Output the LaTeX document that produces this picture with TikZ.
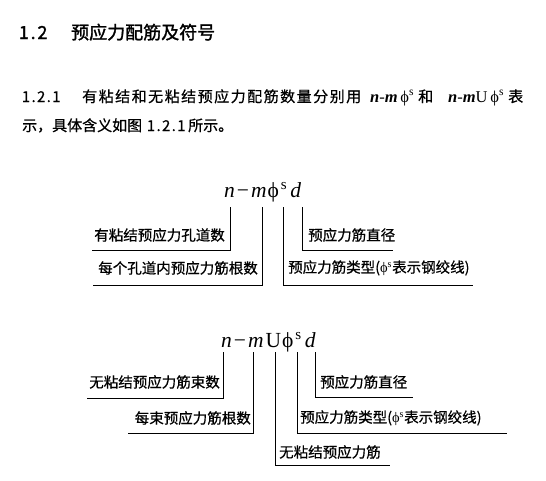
\documentclass[tikz,border=0pt]{standalone}
\usepackage{fontspec}
\setmainfont{Liberation Serif}
\newfontfamily\cjk{Noto Sans CJK SC}[FakeBold=0.6]
\newfontfamily\cjkhead{Noto Sans CJK SC}[FakeBold=1.6]
\newfontfamily\tms{Liberation Serif}
\newcommand\phisup{{\tms ϕ\textsuperscript{s}}}
\newcommand\hw[1]{\makebox[7.6pt]{#1}}
\newcommand\hwh[1]{\makebox[9.3pt]{#1}}
\newcommand\ks{\kern1.5pt}
\tikzset{
  lab/.style={font=\cjk\fontsize{14.5}{14.5}\selectfont, inner sep=0pt},
  body/.style={font=\cjk\fontsize{15}{15}\selectfont, inner sep=0pt, anchor=base west},
  bodyf/.style={font=\tms\fontsize{16.5}{16.5}\selectfont, inner sep=0pt, anchor=base west},
  head/.style={font=\cjkhead\fontsize{18}{18}\selectfont, inner sep=0pt, anchor=base west},
  formula/.style={font=\tms\fontsize{21.5}{21.5}\selectfont, inner sep=0pt, anchor=base west},
  ln/.style={line width=0.9pt},
}
\begin{document}
\begin{tikzpicture}[x=1pt,y=-1pt]
\useasboundingbox (0,0) rectangle (546,480);
\fill[white] (0,0) rectangle (546,480);
% heading
\node[head] (h1) at (19,39) {\hwh{1}\hwh{.}\hwh{2}};
\node[head] (h2) at (71,39) {预应力配筋及符号};
% paragraph
\node[body] (p1) at (22,102) {\hw{1}\hw{.}\hw{2}\hw{.}\hw{1}};
\node[body] (p2) at (82,102) {有\ks 粘\ks 结\ks 和\ks 无\ks 粘\ks 结\ks 预\ks 应\ks 力\ks 配\ks 筋\ks 数\ks 量\ks 分\ks 别\ks 用};
\node[bodyf] (p3) at (370,102) {\textit{\textbf{n}}-\textit{\textbf{m}}\,\phisup};
\node[body] (p4) at (418,102) {和};
\node[bodyf] (p5) at (448,102) {\textit{\textbf{n}}-\textit{\textbf{m}}U\,\phisup};
\node[body] (p6) at (508,102) {表};
\node[body] (q1) at (22,131) {示，具体含义如图};
\node[body] (q2) at (147,131) {\hw{1}\hw{.}\hw{2}\hw{.}\hw{1}};
\node[body] (q3) at (188,131) {所示。};
% diagram 1
\node[formula] (f1) at (224,197) {\textit{n}\kern2pt−\kern2pt\textit{m}\kern1pt ϕ\kern2pt\textsuperscript{s}\kern3pt\textit{d}};
\coordinate (a1) at (230,207); \coordinate (a1e) at (92,250);
\coordinate (a2) at (262,207); \coordinate (a2e) at (93,285);
\coordinate (a3) at (283,207); \coordinate (a3e) at (473,285);
\coordinate (a4) at (302,207); \coordinate (a4e) at (393,250);
\draw[ln] (a1) |- (a1e);
\draw[ln] (a2) |- (a2e);
\draw[ln] (a3) |- (a3e);
\draw[ln] (a4) |- (a4e);
\node[lab, anchor=east] (l1) at (225,235) {有粘结预应力孔道数};
\node[lab, anchor=east] (l2) at (258,268) {每个孔道内预应力筋根数};
\node[lab, anchor=west] (l3) at (288,268) {预应力筋类型(\phisup 表示钢绞线)};
\node[lab, anchor=west] (l4) at (308,235) {预应力筋直径};
% diagram 2
\node[formula] (f2) at (221,347) {\textit{n}\kern2pt−\kern2pt\textit{m}\kern2pt U\kern1pt ϕ\kern2pt\textsuperscript{s}\kern3pt\textit{d}};
\coordinate (b1) at (223,352); \coordinate (b1e) at (87,398);
\coordinate (b2) at (253,352); \coordinate (b2e) at (128,433);
\coordinate (b3) at (275,352); \coordinate (b3e) at (390,465);
\coordinate (b4) at (297,352); \coordinate (b4e) at (507,433);
\coordinate (b5) at (315,352); \coordinate (b5e) at (413,397);
\draw[ln] (b1) |- (b1e);
\draw[ln] (b2) |- (b2e);
\draw[ln] (b3) |- (b3e);
\draw[ln] (b4) |- (b4e);
\draw[ln] (b5) |- (b5e);
\node[lab, anchor=east] (m1) at (220,382) {无粘结预应力筋束数};
\node[lab, anchor=east] (m2) at (251,418) {每束预应力筋根数};
\node[lab, anchor=west] (m3) at (279,452) {无粘结预应力筋};
\node[lab, anchor=west] (m4) at (300,418) {预应力筋类型(\phisup 表示钢绞线)};
\node[lab, anchor=west] (m5) at (320,382) {预应力筋直径};
\end{tikzpicture}
\end{document}
